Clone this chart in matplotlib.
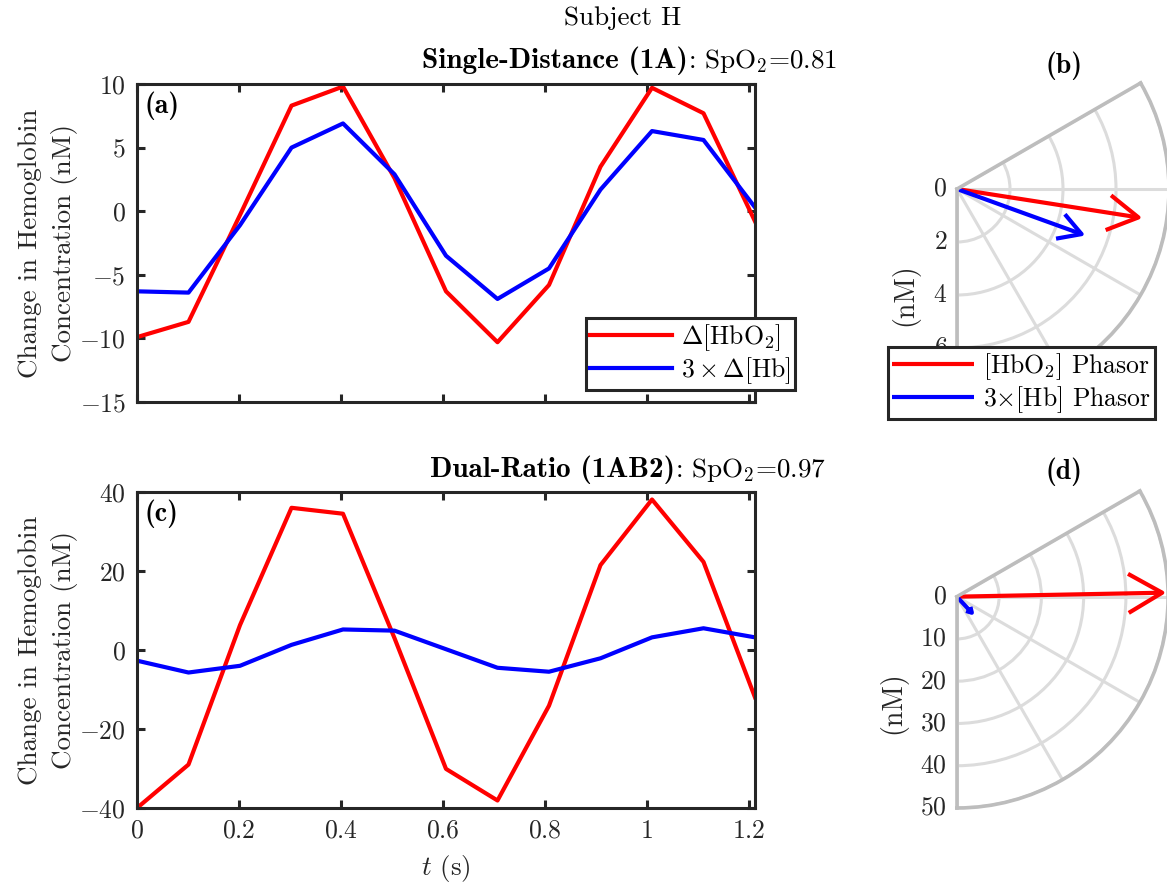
import numpy as np
import matplotlib
matplotlib.use("Agg")
import matplotlib.pyplot as plt

plt.rcParams['font.family'] = 'serif'
plt.rcParams['font.serif'] = ['cmr10']
plt.rcParams['mathtext.fontset'] = 'cm'
plt.rcParams['axes.formatter.use_mathtext'] = True
plt.rcParams['font.size'] = 19.5
plt.rcParams['axes.unicode_minus'] = True

# time samples (s)
t = [0.0, 0.101, 0.202, 0.303, 0.404, 0.505, 0.606, 0.707, 0.808, 0.909, 1.01, 1.111, 1.212]

# (a) single-distance
hbo2_sd = [-9.9, -8.7, -0.3, 8.3, 9.8, 2.6, -6.3, -10.3, -5.8, 3.5, 9.7, 7.7, -0.8]
hb3_sd = [-6.3, -6.4, -1.1, 5.0, 6.9, 2.9, -3.5, -6.9, -4.5, 1.7, 6.3, 5.6, 0.3]

# (c) dual-ratio
hbo2_dr = [-40.0, -29.0, 6.3, 36.0, 34.5, 3.0, -30.1, -38.1, -14.1, 21.5, 38.1, 22.3, -12.0]
hb3_dr = [-2.7, -5.7, -4.0, 1.3, 5.2, 4.9, 0.2, -4.5, -5.5, -2.1, 3.2, 5.5, 3.2]

# phasors: amplitude (nM) and phase (deg)
phasor_amp_sd = [6.93, 5.0]
phasor_deg_sd = [-8.9, -19.9]
phasor_amp_dr = [48.6, 5.2]
phasor_deg_dr = [1.1, -47.0]

RED = '#ff0000'
BLUE = '#0000ff'
DARK = '#262626'
W, H = 1167, 888
TICK_FS = 18.5


def fx(px):
    return px / W


def fy(py):
    return 1 - py / H


def style_line_axes(ax, ylim, yticks):
    ax.set_xlim(t[0], t[-1])
    ax.set_ylim(*ylim)
    ax.set_yticks(yticks)
    ax.set_xticks([0, 0.2, 0.4, 0.6, 0.8, 1.0, 1.2])
    ax.tick_params(direction='in', top=True, right=True, length=6, width=2.2,
                   color=DARK, labelcolor=DARK, pad=8, labelsize=TICK_FS)
    for s in ax.spines.values():
        s.set_linewidth(2.2)
        s.set_color(DARK)
    ax.set_ylabel('Change in Hemoglobin\nConcentration (nM)', color=DARK,
                  labelpad=1, linespacing=1.45)


def style_polar(ax, rmax, rticks):
    ax.set_thetamin(-90)
    ax.set_thetamax(30)
    ax.set_rlim(0, rmax)
    ax.set_rticks(rticks)
    ax.set_thetagrids([-90, -60, -30, 0, 30], labels=[''] * 5)
    ax.grid(color='#dcdcdc', linewidth=2.2)
    for s in ax.spines.values():
        s.set_color('#bdbdbd')
        s.set_linewidth(2.6)
    ax.tick_params(axis='y', length=0, labelcolor=DARK, pad=7, labelsize=TICK_FS)
    ax.tick_params(axis='x', length=0)


def draw_phasor(ax, amp, deg, color):
    th = np.deg2rad(deg)
    line, = ax.plot([th, th], [0, amp], color=color, lw=3, solid_capstyle='butt')
    tip = np.array([amp * np.cos(th), amp * np.sin(th)])
    back = -tip / amp
    pts = []
    for a in (30, 0, -30):
        if a == 0:
            pts.append(tip)
            continue
        ar = np.deg2rad(a)
        rot = np.array([[np.cos(ar), -np.sin(ar)], [np.sin(ar), np.cos(ar)]])
        pts.append(tip + 0.18 * amp * rot @ back)
    pts = np.array(pts)
    ax.plot(np.arctan2(pts[:, 1], pts[:, 0]), np.hypot(pts[:, 0], pts[:, 1]),
            color=color, lw=3)
    return line


def two_part_title(x_px, y_px, bold, rest):
    t1 = fig.text(fx(x_px), fy(y_px), bold, fontfamily='cmb10', fontsize=21,
                  va='baseline', ha='left', color='black')
    ax_a.annotate(rest, xy=(1, fy(y_px)), xycoords=(t1, 'figure fraction'),
                  va='baseline', ha='left', color='black', annotation_clip=False)


def boxed_legend(owner, handles, labels, x_px, y_px):
    leg = owner.legend(handles, labels, loc='upper left',
                       bbox_to_anchor=(fx(x_px), fy(y_px)),
                       bbox_transform=fig.transFigure, borderaxespad=0,
                       fancybox=False, framealpha=1, edgecolor=DARK,
                       handlelength=3.2, borderpad=0.15, labelspacing=0.1,
                       handletextpad=0.35, fontsize=TICK_FS)
    leg.get_frame().set_linewidth(2.2)
    return leg


fig = plt.figure(figsize=(W / 100, H / 100), dpi=100)

ax_a = fig.add_axes([fx(137), fy(402), fx(755) - fx(137), fy(84) - fy(402)])
la1, = ax_a.plot(t, hbo2_sd, color=RED, lw=3)
la2, = ax_a.plot(t, hb3_sd, color=BLUE, lw=3)
style_line_axes(ax_a, (-15, 10), [-15, -10, -5, 0, 5, 10])
ax_a.set_xticklabels([])
boxed_legend(ax_a, [la1, la2],
             [r'$\Delta[\mathrm{HbO_2}]$', r'$3\times\Delta[\mathrm{Hb}]$'], 586, 318)
ax_a.text(0.012, 0.975, '(a)', transform=ax_a.transAxes, fontfamily='cmb10',
          fontsize=20, va='top', ha='left')

ax_c = fig.add_axes([fx(137), fy(808), fx(755) - fx(137), fy(492) - fy(808)])
ax_c.plot(t, hbo2_dr, color=RED, lw=3)
ax_c.plot(t, hb3_dr, color=BLUE, lw=3)
style_line_axes(ax_c, (-40, 40), [-40, -20, 0, 20, 40])
ax_c.xaxis.set_major_formatter(matplotlib.ticker.FuncFormatter(
    lambda v, p: f'${v:g}$'))
ax_c.set_xlabel(r'$t$ (s)', color=DARK, labelpad=7)
ax_c.text(0.012, 0.975, '(c)', transform=ax_c.transAxes, fontfamily='cmb10',
          fontsize=20, va='top', ha='left')

# polar boxes are square; the wedge fills the full height
ax_b = fig.add_axes([fx(904), fy(401), 318 / W, 318 / H], projection='polar')
style_polar(ax_b, 8, [0, 2, 4, 6, 8])
l1 = draw_phasor(ax_b, phasor_amp_sd[0], phasor_deg_sd[0], RED)
l2 = draw_phasor(ax_b, phasor_amp_sd[1], phasor_deg_sd[1], BLUE)

ax_d = fig.add_axes([fx(904), fy(808), 317 / W, 317 / H], projection='polar')
style_polar(ax_d, 50, [0, 10, 20, 30, 40, 50])
draw_phasor(ax_d, phasor_amp_dr[0], phasor_deg_dr[0], RED)
draw_phasor(ax_d, phasor_amp_dr[1], phasor_deg_dr[1], BLUE)

boxed_legend(fig, [l1, l2],
             [r'$[\mathrm{HbO_2}]$ Phasor', r'$3{\times}[\mathrm{Hb}]$ Phasor'], 888, 347)

fig.text(fx(905), fy(295), '(nM)', rotation=90, ha='center', va='center',
         color=DARK, fontsize=20)
fig.text(fx(893), fy(703), '(nM)', rotation=90, ha='center', va='center',
         color=DARK, fontsize=20)
fig.text(fx(1064), fy(66), '(b)', fontfamily='cmb10', fontsize=20, ha='center', va='center')
fig.text(fx(1064), fy(472), '(d)', fontfamily='cmb10', fontsize=20, ha='center', va='center')

fig.text(fx(623), fy(25), 'Subject H', ha='center', va='baseline')
two_part_title(422, 68, 'Single-Distance (1A)', r': SpO$_2$=0.81')
two_part_title(430, 477, 'Dual-Ratio (1AB2)', r': SpO$_2$=0.97')

fig.savefig('out.png', dpi=100)
